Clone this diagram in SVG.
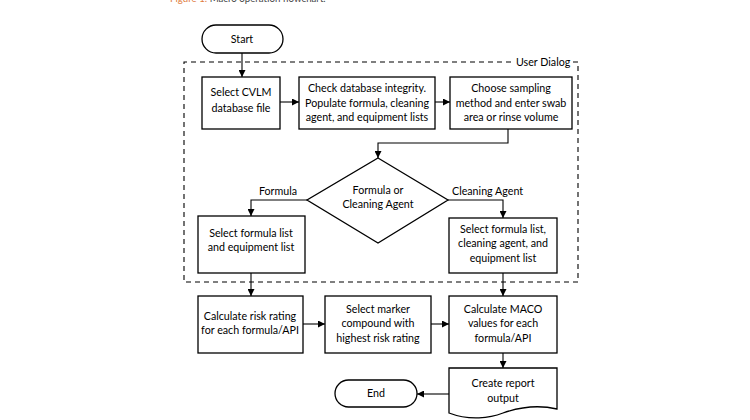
<svg xmlns="http://www.w3.org/2000/svg" width="750" height="420" viewBox="0 0 750 420">
<defs>
<marker id="ah" viewBox="0 0 10 10" refX="10" refY="5" markerWidth="7" markerHeight="7" markerUnits="userSpaceOnUse" orient="auto">
<path d="M0,0 L10,5 L0,10 z" fill="#000"/>
</marker>
<style>
.box{fill:#fff;stroke:#000;stroke-width:1.3}
.t{font-family:Lato,"Liberation Sans",sans-serif;font-size:10.7px;fill:#000;text-anchor:middle}
.l{font-family:Lato,"Liberation Sans",sans-serif;font-size:10.7px;fill:#000}
.c{fill:none;stroke:#000;stroke-width:1.1;marker-end:url(#ah)}
.d{fill:none;stroke:#000;stroke-width:1.1;stroke-dasharray:5 4}
</style>
</defs>
<rect width="750" height="420" fill="#fff"/>
<text x="170" y="2" font-family="Lato,'Liberation Sans',sans-serif" font-size="9.7px" fill="#444"><tspan fill="#e07a3c">Figure 1:</tspan> Macro operation flowchart.</text>

<g id="userdialog">
<path class="d" d="M511,62 L184,62 L184,282 L578,282 L578,62 L570,62"/>
<text class="l" x="516" y="66">User Dialog</text>
</g>

<g id="connectors">
<path class="c" d="M242,53 L242,77"/>
<path class="c" d="M280,102 L299,102"/>
<path class="c" d="M435,102 L450,102"/>
<path class="c" d="M508,129 L508,143 L378,143 L378,158"/>
<path class="c" d="M307,200 L251,200 L251,216"/>
<path class="c" d="M448,200 L503,200 L503,218"/>
<path class="c" d="M251,273 L251,296"/>
<path class="c" d="M503,273 L503,296"/>
<path class="c" d="M303,324 L325,324"/>
<path class="c" d="M431,324 L449,324"/>
<path class="c" d="M503,353 L503,368"/>
<path class="c" d="M449,394 L417,394"/>
<text class="t" x="278" y="195">Formula</text>
<text class="l" x="452" y="195">Cleaning Agent</text>
</g>

<g id="start">
<rect class="box" x="202" y="25" width="81" height="28" rx="14"/>
<text class="t" x="242" y="43">Start</text>
</g>
<g id="box1">
<rect class="box" x="202" y="77" width="78" height="52"/>
<text class="t" x="241" y="96">Select CVLM</text>
<text class="t" x="241" y="112">database file</text>
</g>
<g id="box2">
<rect class="box" x="299" y="77" width="136" height="52"/>
<text class="t" x="367" y="92">Check database integrity.</text>
<text class="t" x="367" y="107">Populate formula, cleaning</text>
<text class="t" x="367" y="121">agent, and equipment lists</text>
</g>
<g id="box3">
<rect class="box" x="450" y="77" width="122" height="52"/>
<text class="t" x="511" y="92">Choose sampling</text>
<text class="t" x="511" y="107">method and enter swab</text>
<text class="t" x="511" y="121">area or rinse volume</text>
</g>
<g id="decision">
<path class="box" d="M378,158 L448,200 L378,243 L307,200 z"/>
<text class="t" x="378" y="194">Formula or</text>
<text class="t" x="378" y="208">Cleaning Agent</text>
</g>
<g id="box4">
<rect class="box" x="198" y="216" width="107" height="57"/>
<text class="t" x="251" y="237">Select formula list</text>
<text class="t" x="251" y="251">and equipment list</text>
</g>
<g id="box5">
<rect class="box" x="449" y="218" width="108" height="55"/>
<text class="t" x="503" y="233">Select formula list,</text>
<text class="t" x="503" y="247">cleaning agent, and</text>
<text class="t" x="503" y="262">equipment list</text>
</g>
<g id="box6">
<rect class="box" x="198" y="296" width="105" height="57"/>
<text class="t" x="250" y="320">Calculate risk rating</text>
<text class="t" x="250" y="334">for each formula/API</text>
</g>
<g id="box7">
<rect class="box" x="325" y="296" width="106" height="57"/>
<text class="t" x="378" y="313">Select marker</text>
<text class="t" x="378" y="327">compound with</text>
<text class="t" x="378" y="342">highest risk rating</text>
</g>
<g id="box8">
<rect class="box" x="449" y="296" width="108" height="57"/>
<text class="t" x="503" y="313">Calculate MACO</text>
<text class="t" x="503" y="327">values for each</text>
<text class="t" x="503" y="342">formula/API</text>
</g>
<g id="report">
<path class="box" d="M449,368 L557,368 L557,409 C540,405 520,407 503,413 C490,418 470,421 449,413 z"/>
<text class="t" x="503" y="387">Create report</text>
<text class="t" x="503" y="402">output</text>
</g>
<g id="end">
<rect class="box" x="335" y="380" width="82" height="27" rx="13.5"/>
<text class="t" x="376" y="397">End</text>
</g>
</svg>
